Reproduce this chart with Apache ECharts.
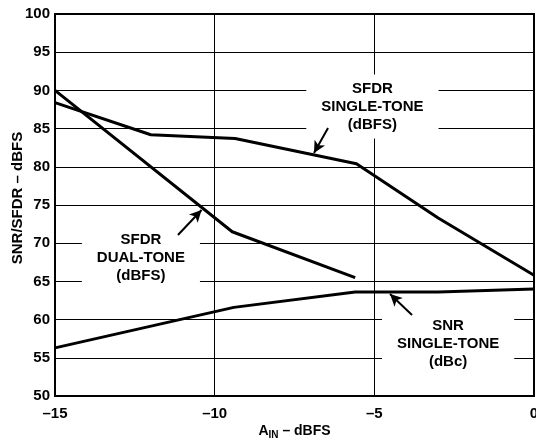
<!DOCTYPE html>
<html>
<head>
<meta charset="utf-8">
<script src="https://cdn.jsdelivr.net/npm/echarts@6/dist/echarts.min.js"></script>
<style>
  html, body { margin: 0; padding: 0; background: #fff; }
  #chart { width: 536px; height: 440px; }
</style>
</head>
<body>
<div id="chart"></div>
<script>
// input amplitude (dBFS) vs. level (dBFS / dBc)
const sfdrSingleX = [-15, -12, -9.36, -5.56, -3, 0]
const sfdrSingleY = [88.4, 84.2, 83.7, 80.4, 73.3, 65.8]

const sfdrDualX = [-15, -9.45, -5.6]
const sfdrDualY = [90, 71.5, 65.5]

const snrSingleX = [-15, -9.4, -5.6, -3, 0]
const snrSingleY = [56.3, 61.6, 63.6, 63.6, 64]

const xTicks = { min: -15, max: 0, step: 5 }
const yTicks = { min: 50, max: 100, step: 5 }

// callout text and where it sits, in data units
const calloutText = ['SFDR\nSINGLE-TONE\n(dBFS)', 'SFDR\nDUAL-TONE\n(dBFS)', 'SNR\nSINGLE-TONE\n(dBc)']
const calloutPos = [[-5.06, 87.9], [-12.31, 68.06], [-2.69, 56.8]]
const arrowFrom = [[-6.45, 85.08], [-11.15, 71.07], [-3.82, 60.6]]
const arrowTo = [[-6.89, 81.8], [-10.41, 74.35], [-4.51, 63.35]]

const font = 'Liberation Sans, Arial, Helvetica, sans-serif'
const zip = (xs, ys) => xs.map((x, i) => [x, ys[i]])
const dash = (v) => String(v).replace('-', '\u2013')

const curve = (name, xs, ys) => ({
  name,
  type: 'line',
  data: zip(xs, ys),
  showSymbol: false,
  symbol: 'none',
  lineStyle: { color: '#000', width: 3 },
  z: 5,
})

const chart = echarts.init(document.getElementById('chart'))
chart.setOption({
  animation: false,
  backgroundColor: '#fff',
  textStyle: { fontFamily: font, color: '#000' },
  grid: {
    left: 55, right: 2, top: 14, bottom: 44,
    containLabel: false, outerBoundsMode: 'none',
    show: true, borderColor: '#000', borderWidth: 2, backgroundColor: 'transparent',
  },
  xAxis: {
    type: 'value',
    min: xTicks.min, max: xTicks.max, interval: xTicks.step,
    axisLine: { show: false },
    axisTick: { show: false },
    splitLine: { lineStyle: { color: '#000', width: 1 } },
    axisLabel: { color: '#000', fontFamily: font, fontWeight: 'bold', fontSize: 15, margin: 10, formatter: dash },
    name: '{a|A}{s|IN}{a| \u2013 dBFS}',
    nameLocation: 'middle',
    nameGap: 27,
    nameMoveOverlap: false,
    nameTextStyle: {
      rich: {
        a: { fontFamily: font, fontWeight: 'bold', fontSize: 14, color: '#000' },
        s: { fontFamily: font, fontWeight: 'bold', fontSize: 10, color: '#000', verticalAlign: 'bottom', padding: [7, 0, 0, 0] },
      },
    },
  },
  yAxis: {
    type: 'value',
    min: yTicks.min, max: yTicks.max, interval: yTicks.step,
    axisLine: { show: false },
    axisTick: { show: false },
    splitLine: { lineStyle: { color: '#000', width: 1 } },
    axisLabel: { color: '#000', fontFamily: font, fontWeight: 'bold', fontSize: 15, margin: 5 },
    name: 'SNR/SFDR \u2013 dBFS',
    nameLocation: 'middle',
    nameGap: 30,
    nameMoveOverlap: false,
    nameTextStyle: { fontFamily: font, fontWeight: 'bold', fontSize: 15, color: '#000', padding: [0, 0, 0, 14] },
  },
  series: [
    curve('SFDR single-tone', sfdrSingleX, sfdrSingleY),
    curve('SFDR dual-tone', sfdrDualX, sfdrDualY),
    curve('SNR single-tone', snrSingleX, snrSingleY),
    {
      name: 'callouts',
      type: 'scatter',
      data: calloutPos,
      symbolSize: 1,
      itemStyle: { color: 'rgba(0,0,0,0)', opacity: 1 },
      z: 3,
      label: {
        show: true,
        position: 'inside',
        formatter: (p) => calloutText[p.dataIndex],
        fontFamily: font, fontWeight: 'bold', fontSize: 15, color: '#000',
        lineHeight: 18, align: 'center',
        backgroundColor: '#fff', padding: [5, 15],
      },
      markLine: {
        silent: true,
        symbol: ['none', 'arrow'],
        symbolSize: [9, 12],
        label: { show: false },
        lineStyle: { color: '#000', width: 2, type: 'solid' },
        data: arrowFrom.map((from, i) => [{ coord: from }, { coord: arrowTo[i] }]),
      },
    },
  ],
})
</script>
</body>
</html>
